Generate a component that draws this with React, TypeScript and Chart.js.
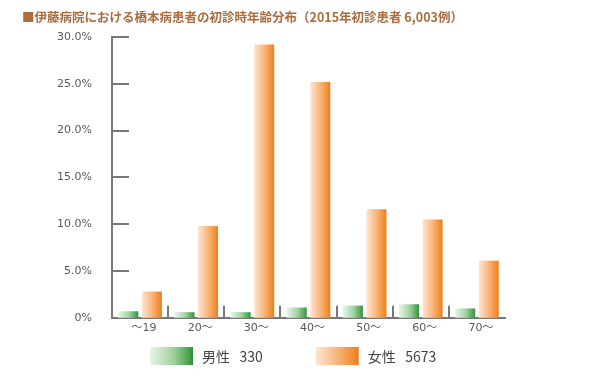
import React, { useEffect, useRef } from "react";
import { Chart, registerables } from "chart.js";

Chart.register(...registerables);

const titleText = "■伊藤病院における橋本病患者の初診時年齢分布（2015年初診患者 6,003例）";
const categories = ["～19", "20～", "30～", "40～", "50～", "60～", "70～"];
const seriesNames = ["男性", "女性"];
const seriesCounts = [330, 5673];
const maleValues = [0.7, 0.6, 0.6, 1.1, 1.3, 1.45, 1.0];
const femaleValues = [2.8, 9.8, 29.2, 25.2, 11.6, 10.5, 6.1];
const yTickValues = [0, 5, 10, 15, 20, 25, 30];

const gradientStops: [number, string][][] = [
  [
    [0, "#eaf5e8"],
    [0.55, "#9fd19f"],
    [0.92, "#44a04a"],
    [1, "#2f8a38"],
  ],
  [
    [0, "#fee6d3"],
    [0.5, "#f9b57a"],
    [0.88, "#f28c30"],
    [1, "#e97c1e"],
  ],
];

const AXIS_COLOR = "#787878";
const TEXT_COLOR = "#595959";
const FONT = "'DejaVu Sans', 'Noto Sans CJK JP', sans-serif";
const LEGEND_FONT = "'Noto Sans CJK JP', sans-serif";

function makeGrad(ctx: CanvasRenderingContext2D, x0: number, x1: number, stops: [number, string][]) {
  const g = ctx.createLinearGradient(x0, 0, x1, 0);
  stops.forEach(([o, c]) => g.addColorStop(o, c));
  return g;
}

const decorPlugin = {
  id: "decor",
  afterDatasetsDraw(chart: any) {
    const ctx: CanvasRenderingContext2D = chart.ctx;
    ctx.save();
    chart.data.datasets.forEach((_ds: any, di: number) => {
      const meta = chart.getDatasetMeta(di);
      meta.data.forEach((el: any) => {
        const p = el.getProps(["x", "y", "base", "width"], true);
        const left = p.x - p.width / 2;
        const top = Math.min(p.y, p.base);
        const h = Math.abs(p.base - p.y);
        ctx.fillStyle = makeGrad(ctx, left, left + p.width, gradientStops[di]);
        ctx.fillRect(left, top, p.width, h);
      });
    });
    ctx.restore();
  },
  afterDraw(chart: any) {
    const ctx: CanvasRenderingContext2D = chart.ctx;
    const area = chart.chartArea;
    const y = chart.scales.y;
    const x = chart.scales.x;
    ctx.save();
    ctx.strokeStyle = AXIS_COLOR;
    ctx.lineWidth = 2;
    // inward y tick marks
    yTickValues.forEach((v) => {
      if (v === 0) return;
      const py = Math.round(y.getPixelForValue(v));
      ctx.beginPath();
      ctx.moveTo(area.left, py);
      ctx.lineTo(area.left + 17, py);
      ctx.stroke();
    });
    // category separators
    for (let i = 0; i < categories.length - 1; i++) {
      const px = Math.round((x.getPixelForValue(i) + x.getPixelForValue(i + 1)) / 2);
      ctx.beginPath();
      ctx.moveTo(px, area.bottom);
      ctx.lineTo(px, area.bottom - 12);
      ctx.stroke();
    }
    // legend
    ctx.font = `14px ${LEGEND_FONT}`;
    ctx.textBaseline = "middle";
    ctx.textAlign = "left";
    const boxW = 43;
    const boxH = 18;
    const gapText = 9;
    const gapItem = 53;
    const texts = seriesNames.map((n, i) => `${n}   ${seriesCounts[i]}`);
    const widths = texts.map((t) => boxW + gapText + ctx.measureText(t).width);
    const total = widths.reduce((a, b) => a + b, 0) + gapItem * (texts.length - 1);
    let cx = Math.round(293 - total / 2);
    const boxTop = 347;
    texts.forEach((t, i) => {
      ctx.fillStyle = makeGrad(ctx, cx, cx + boxW, gradientStops[i]);
      ctx.fillRect(cx, boxTop, boxW, boxH);
      ctx.fillStyle = "#444444";
      ctx.fillText(t, cx + boxW + gapText, boxTop + boxH / 2 + 1);
      cx += widths[i] + gapItem;
    });
    ctx.restore();
  },
};

export default function App() {
  const ref = useRef<HTMLCanvasElement | null>(null);
  useEffect(() => {
    document.body.style.margin = "0";
    const canvas = ref.current;
    if (!canvas) return;
    const chart = new Chart(canvas, {
      type: "bar",
      data: {
        labels: categories,
        datasets: [
          {
            label: seriesNames[0],
            data: maleValues,
            backgroundColor: "rgba(0,0,0,0)",
            barPercentage: 0.85,
            categoryPercentage: 0.84,
          },
          {
            label: seriesNames[1],
            data: femaleValues,
            backgroundColor: "rgba(0,0,0,0)",
            barPercentage: 0.85,
            categoryPercentage: 0.84,
          },
        ],
      },
      options: {
        responsive: false,
        animation: false,
        devicePixelRatio: 1,
        layout: { padding: { left: 22, right: 95, top: 0, bottom: 41 } },
        plugins: {
          legend: { display: false },
          tooltip: { enabled: false },
          title: {
            display: true,
            text: titleText,
            align: "start",
            color: "#ac6c3c",
            font: { family: "'Noto Sans CJK JP', sans-serif", size: 12.5, weight: "bold", lineHeight: 1.2 },
            padding: { top: 10, bottom: 12 },
          },
        },
        scales: {
          x: {
            grid: { display: false, drawTicks: false },
            border: { display: true, color: AXIS_COLOR, width: 2 },
            ticks: {
              color: TEXT_COLOR,
              font: { family: FONT, size: 11 },
              padding: 4,
              labelOffset: 4,
              maxRotation: 0,
            },
          },
          y: {
            min: 0,
            max: 30,
            grid: { display: false, drawTicks: false },
            border: { display: true, color: AXIS_COLOR, width: 2 },
            afterFit: (scale: any) => {
              scale.width = 90;
            },
            ticks: {
              stepSize: 5,
              color: TEXT_COLOR,
              font: { family: FONT, size: 11 },
              padding: 20,
              callback: (v: any) => (Number(v) === 0 ? "0%" : `${Number(v).toFixed(1)}%`),
            },
          },
        },
      },
      plugins: [decorPlugin],
    });
    return () => chart.destroy();
  }, []);
  return (
    <div style={{ width: 600, height: 380 }}>
      <canvas ref={ref} width={600} height={380} style={{ display: "block" }} />
    </div>
  );
}
